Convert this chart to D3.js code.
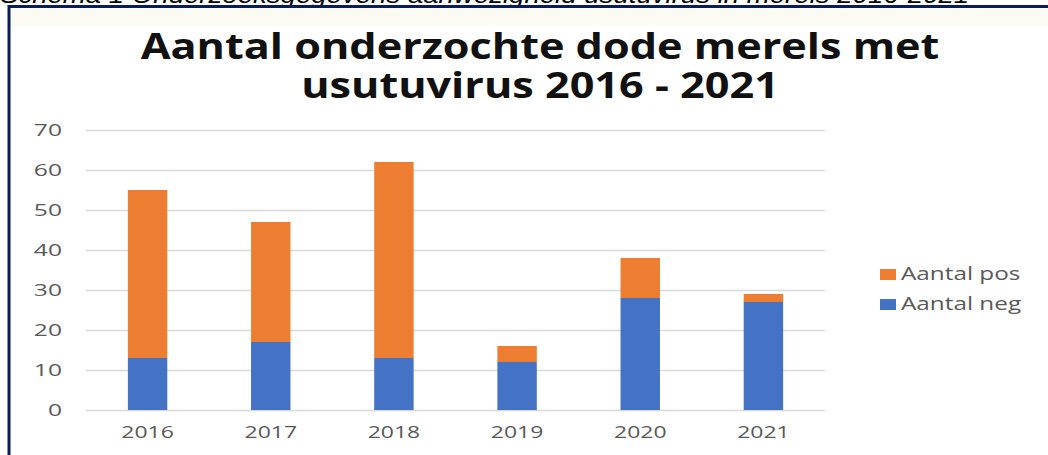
<!DOCTYPE html>
<html>
<head>
  <meta charset="utf-8">
  <title>Usutuvirus merels</title>
  <script src="https://cdn.jsdelivr.net/npm/d3@7"></script>
</head>
<style>
  html, body { margin: 0; padding: 0; overflow: hidden; background: #fff }
  svg { display: block; font-family: "Open Sans", sans-serif }
</style>
<body>
  <div id="chart"></div>
</body>
<script>
  const years = ['2016', '2017', '2018', '2019', '2020', '2021']
  const aantalNeg = [13, 17, 13, 12, 28, 27]
  const aantalPos = [42, 30, 49, 4, 10, 2]
  const yTicks = [0, 10, 20, 30, 40, 50, 60, 70]
  const seriesNames = ['Aantal pos', 'Aantal neg']
  const seriesColors = ['#ED7D31', '#4472C4']

  const W = 1048, H = 455
  // the source picture is stretched sideways, so text gets a horizontal scale
  const STRETCH = 1.35

  const svg = d3.select('#chart').append('svg')
    .attr('width', W).attr('height', H)

  // caption above the frame, mostly cut off
  svg.append('text')
    .attr('transform', 'translate(0,3) scale(1.2,1)')
    .style('font-family', 'Liberation Sans, Arial, sans-serif')
    .style('font-style', 'italic')
    .style('font-size', '23px')
    .attr('fill', '#000')
    .text('Schema 1 Onderzoeksgegevens aanwezigheid usutuvirus in merels 2016-2021')

  // frame
  svg.append('rect').attr('x', 10).attr('y', 8).attr('width', W).attr('height', 18)
    .attr('fill', '#fbfbf3')
  svg.append('path')
    .attr('d', `M9,${H} V6.5 H${W}`)
    .attr('fill', 'none').attr('stroke', '#0b1d57').attr('stroke-width', 3)

  // title
  const title = svg.append('text')
    .attr('transform', 'translate(540,0) scale(1.2,1)')
    .attr('text-anchor', 'middle')
    .style('font-weight', 'bold')
    .style('font-size', '36px')
    .attr('fill', '#111')
  title.append('tspan').attr('x', 0).attr('y', 59).text('Aantal onderzochte dode merels met')
  title.append('tspan').attr('x', 0).attr('y', 98).text('usutuvirus 2016 - 2021')

  const x = d3.scaleBand().domain(years).range([86, 825]).paddingInner(0.68).paddingOuter(0.34)
  const y = d3.scaleLinear().domain([0, 70]).range([410, 130])

  // gridlines
  svg.append('g').selectAll('line').data(yTicks).enter().append('line')
    .attr('x1', 86).attr('x2', 825)
    .attr('y1', d => y(d) + 0.5).attr('y2', d => y(d) + 0.5)
    .attr('stroke', '#d9d9d9').attr('stroke-width', 1.3)

  // y axis labels
  const yAxis = svg.append('g').attr('transform', 'translate(86,0)')
    .call(d3.axisLeft(y).tickValues(yTicks).tickSize(0).tickPadding(24))
  yAxis.select('.domain').remove()
  yAxis.selectAll('text')
    .style('font-size', '17px').style('font-family', '"Open Sans", sans-serif')
    .attr('fill', '#595959')
    .attr('x', -24 / 1.45)
    .attr('transform', 'scale(1.45,1)')

  // x axis labels
  const xAxis = svg.append('g').attr('transform', 'translate(0,410)')
    .call(d3.axisBottom(x).tickSize(0).tickPadding(16))
  xAxis.select('.domain').remove()
  xAxis.selectAll('text')
    .style('font-size', '17px').style('font-family', '"Open Sans", sans-serif')
    .attr('fill', '#595959')
    .attr('transform', `scale(${STRETCH},1)`)

  // stacked bars
  const rows = years.map((yr, i) => ({ year: yr, neg: aantalNeg[i], pos: aantalPos[i] }))
  const stack = d3.stack().keys(['neg', 'pos'])(rows)
  const colorOf = { neg: seriesColors[1], pos: seriesColors[0] }
  svg.append('g').selectAll('g').data(stack).enter().append('g')
    .attr('fill', d => colorOf[d.key])
    .selectAll('rect').data(d => d).enter().append('rect')
    .attr('x', d => x(d.data.year))
    .attr('width', x.bandwidth())
    .attr('y', d => y(d[1]))
    .attr('height', d => y(d[0]) - y(d[1]))

  // legend
  const legend = svg.append('g').selectAll('g').data(seriesNames).enter().append('g')
    .attr('transform', (d, i) => `translate(880,${269 + i * 30})`)
  legend.append('rect').attr('width', 16).attr('height', 11).attr('fill', (d, i) => seriesColors[i])
  legend.append('text')
    .attr('transform', `translate(21,11) scale(${STRETCH},1)`)
    .style('font-size', '18px').attr('fill', '#595959').text(d => d)
</script>
</html>
